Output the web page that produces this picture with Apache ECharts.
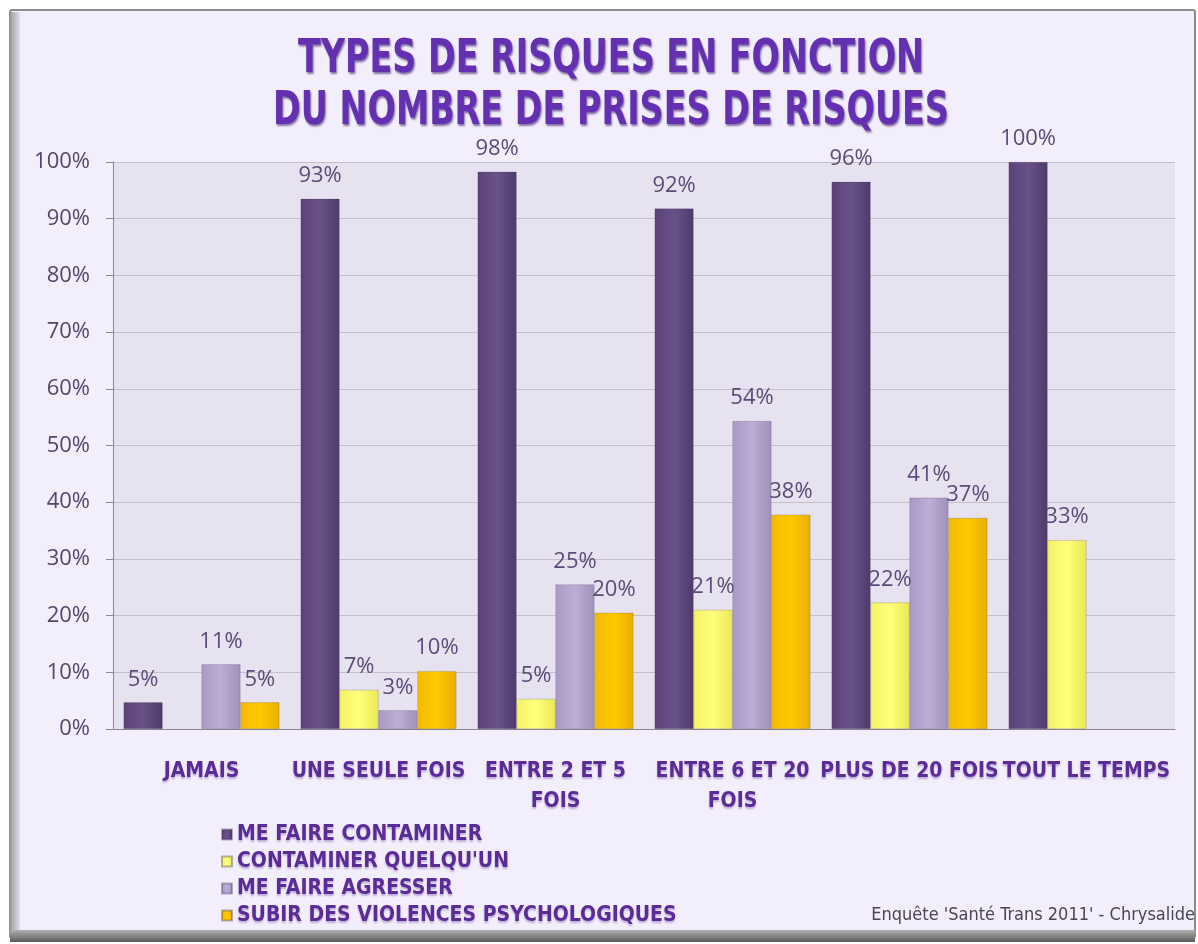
<!DOCTYPE html>
<html>
<head>
<meta charset="utf-8">
<script src="https://cdn.jsdelivr.net/npm/echarts@6/dist/echarts.min.js"></script>
<style>
html,body{margin:0;padding:0;background:#ffffff;}
#c{width:1198px;height:944px;}
</style>
</head>
<body>
<div id="c"></div>
<script>
const categories = ["JAMAIS", "UNE SEULE FOIS", "ENTRE 2 ET 5\nFOIS", "ENTRE 6 ET 20\nFOIS", "PLUS DE 20 FOIS", "TOUT LE TEMPS"];
const seriesNames = ["ME FAIRE CONTAMINER", "CONTAMINER QUELQU'UN", "ME FAIRE AGRESSER", "SUBIR DES VIOLENCES PSYCHOLOGIQUES"];
const meFaireContaminer = [4.7, 93.5, 98.3, 91.8, 96.5, 100];
const contaminerQuelquun = [null, 6.9, 5.3, 21.0, 22.3, 33.3];
const meFaireAgresser = [11.4, 3.3, 25.5, 54.3, 40.8, null];
const subirViolences = [4.7, 10.2, 20.5, 37.8, 37.2, null];
const labelsContaminer = ["5%", "93%", "98%", "92%", "96%", "100%"];
const labelsQuelquun = ["", "7%", "5%", "21%", "22%", "33%"];
const labelsAgresser = ["11%", "3%", "25%", "54%", "41%", ""];
const labelsViolences = ["5%", "10%", "20%", "38%", "37%", ""];
const yTicks = [0, 10, 20, 30, 40, 50, 60, 70, 80, 90, 100];
const titleLines = ["TYPES DE RISQUES EN FONCTION", "DU NOMBRE DE PRISES DE RISQUES"];
const footerText = "Enquête 'Santé Trans 2011' - Chrysalide";

const condFont = '"Liberation Sans Narrow", "DejaVu Sans Condensed", sans-serif';
const purpleText = '#5a2c96';

function grad(c1, c2, c3) {
  return new echarts.graphic.LinearGradient(0, 0, 1, 0, [
    {offset: 0, color: c1}, {offset: 0.5, color: c2}, {offset: 1, color: c3}
  ]);
}
const colors = [
  grad('#5a4278', '#6a5289', '#4e3a6a'),
  grad('#f4f264', '#ffff7c', '#eae854'),
  grad('#a999c4', '#bcaed6', '#a090ba'),
  grad('#f2ba00', '#ffca00', '#e8ae00')
];
const legendColors = ['#5f4880', '#ffff70', '#b3a4cc', '#ffc800'];

function mkSeries(i, data, labels) {
  return {
    name: seriesNames[i],
    type: 'bar',
    data: data,
    barGap: '0%',
    barCategoryGap: '12%',
    itemStyle: {color: colors[i], borderColor: 'rgba(60,40,80,0.35)', borderWidth: 0.5},
    label: {
      show: true, position: 'top', distance: 12,
      fontFamily: '"Open Sans", sans-serif', fontSize: 22, color: '#5b4b78',
      formatter: p => labels[p.dataIndex]
    }
  };
}

function titleText(line, y) {
  return {
    type: 'text', x: 611, y: y, scaleX: 0.79, z: 10,
    style: {
      text: line, textAlign: 'center', textVerticalAlign: 'middle',
      font: 'bold 47px ' + condFont, fill: '#6430b2',
      textShadowColor: 'rgba(40,10,90,0.55)', textShadowBlur: 2, textShadowOffsetX: 1, textShadowOffsetY: 2
    }
  };
}

const chart = echarts.init(document.getElementById('c'));
chart.setOption({
  backgroundColor: 'transparent',
  color: legendColors,
  graphic: [
    {type: 'rect', z: -10, shape: {x: 10, y: 10, width: 1185, height: 928, r: 2},
     style: {fill: '#f3eefb', stroke: '#8c8c8c', lineWidth: 2}},
    {type: 'rect', z: -9, shape: {x: 10, y: 12, width: 10, height: 924},
     style: {fill: new echarts.graphic.LinearGradient(0,0,1,0,[{offset:0,color:'#9a9a9a'},{offset:1,color:'#e4e0ea'}])}},
    {type: 'rect', z: -9, shape: {x: 10, y: 930, width: 1185, height: 12},
     style: {fill: new echarts.graphic.LinearGradient(0,0,0,1,[{offset:0,color:'#b0b0b0'},{offset:1,color:'#5a5a5a'}])}},
    titleText(titleLines[0], 60),
    titleText(titleLines[1], 112),
    {type: 'text', x: 1195, y: 915, z: 10,
     style: {text: footerText, fill: '#4a4458', textAlign: 'right', textVerticalAlign: 'middle',
             font: '18px ' + condFont}}
  ],
  grid: {left: 113, right: 23, top: 162, bottom: 215, containLabel: false,
         show: true, backgroundColor: '#e7e2ef', borderWidth: 0},
  legend: {
    orient: 'vertical', left: 216, top: 819, itemGap: 6,
    itemWidth: 10, itemHeight: 10, icon: 'rect',
    textStyle: {fontFamily: condFont, fontWeight: 'bold', fontSize: 21, color: purpleText,
                textShadowColor: 'rgba(90,44,150,0.35)', textShadowBlur: 2, textShadowOffsetY: 2}
  },
  xAxis: {
    type: 'category', data: categories,
    axisLine: {show: true, lineStyle: {color: '#8a8496', width: 1}},
    axisTick: {show: false},
    axisLabel: {
      interval: 0, margin: 28, lineHeight: 30,
      fontFamily: condFont, fontWeight: 'bold', fontSize: 21, color: purpleText,
      textShadowColor: 'rgba(90,44,150,0.35)', textShadowBlur: 2, textShadowOffsetY: 2
    }
  },
  yAxis: {
    type: 'value', min: 0, max: 100, interval: 10,
    axisLine: {show: true, lineStyle: {color: '#8a8496', width: 1}},
    axisTick: {show: true, length: 7, lineStyle: {color: '#8a8496'}},
    splitLine: {show: true, lineStyle: {color: '#c4bfcc', width: 1}},
    axisLabel: {
      margin: 23, fontFamily: '"Open Sans", sans-serif', fontSize: 22, color: '#54466a',
      formatter: v => yTicks.includes(v) ? v + '%' : ''
    }
  },
  series: [
    mkSeries(0, meFaireContaminer, labelsContaminer),
    mkSeries(1, contaminerQuelquun, labelsQuelquun),
    mkSeries(2, meFaireAgresser, labelsAgresser),
    mkSeries(3, subirViolences, labelsViolences)
  ]
});
</script>
</body>
</html>
